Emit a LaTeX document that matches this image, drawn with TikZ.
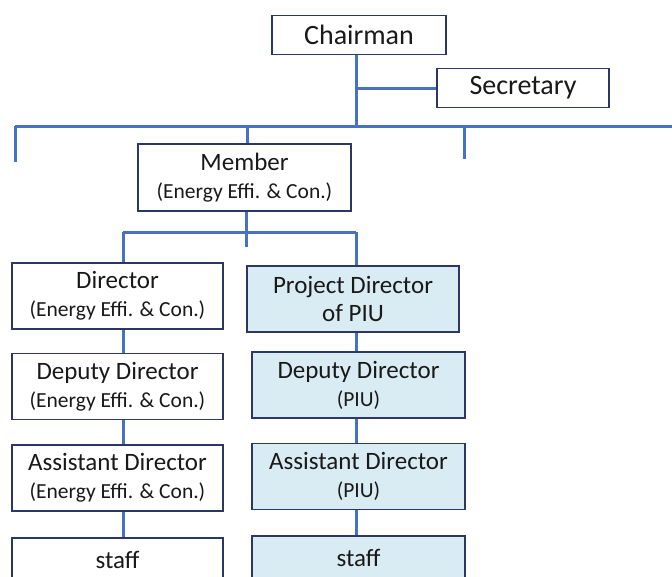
\documentclass[tikz,border=0pt]{standalone}
\usepackage{fontspec}
\setmainfont{Carlito}
\usetikzlibrary{positioning}
\definecolor{linkblue}{RGB}{70,114,192}
\definecolor{boxline}{RGB}{45,55,100}
\definecolor{piufill}{RGB}{218,236,243}
\newcommand{\subline}[1]{{\fontsize{21.5}{28}\selectfont #1}}

\begin{document}
\begin{tikzpicture}[x=1pt,y=-1pt,
  box/.style={draw=boxline,line width=1.6pt,fill=white,text=black!90,align=center,
    inner sep=0pt,minimum width=211pt,minimum height=66pt,font=\fontsize{25}{28}\selectfont},
  piu/.style={box,fill=piufill,minimum width=213pt},
  top/.style={box,minimum height=39pt,font=\fontsize{28}{30}\selectfont},
  staffbox/.style={minimum height=44pt},
  link/.style={draw=linkblue,line width=3pt}]

\useasboundingbox (0,0) rectangle (672,576);
\clip (0,0) rectangle (672,576);

% top level
\node[top,minimum width=174pt] (chair) at (359,35) {Chairman};
\node[top,minimum width=172pt] (secr)  at (523,88) {Secretary};
\node[box,minimum width=213pt,minimum height=67pt] (member) at (244.5,177.5) {Member\\\subline{(Energy Effi. \& Con.)}};

% energy efficiency column
\node[box] (dir)    at (117.5,296)       {Director\\\subline{(Energy Effi. \& Con.)}};
\node[box] (ddir)   [below=23pt of dir]  {Deputy Director\\\subline{(Energy Effi. \& Con.)}};
\node[box] (adir)   [below=24pt of ddir] {Assistant Director\\\subline{(Energy Effi. \& Con.)}};
\node[box,staffbox] (staffl) [below=25pt of adir] {staff};

% PIU column
\node[piu,minimum width=212pt] (pd) at (353,299) {Project Director\\of PIU};
\node[piu] (dpiu)   at (358.5,385)       {Deputy Director\\\subline{(PIU)}};
\node[piu] (apiu)   [below=24pt of dpiu] {Assistant Director\\\subline{(PIU)}};
\node[piu,staffbox] (staffr) [below=25pt of apiu] {staff};

\coordinate (barL)  at (15,126);
\coordinate (barR)  at (672,126);
\coordinate (dropL) at (15,162);
\coordinate (dropM) at (464,159);
\coordinate (colL)  at (123,232);
\coordinate (colR)  at (356,232);

% connectors
\draw[link] (barL) -- (barR);
\draw[link] (barL) -- (dropL);
\draw[link] (dropM |- barL) -- (dropM);
\draw[link] ([xshift=-3pt]chair.south) -- ([xshift=-3pt]chair.south |- barL);
\draw[link] (356,0 |- secr.west) -- (secr.west);
\draw[link] ([xshift=2.5pt]member.north |- barL) -- ([xshift=2.5pt]member.north);
\draw[link] ([xshift=1.5pt]member.south) -- ([xshift=1.5pt]member.south |- 0,247);
\draw[link] (colL) -- (colR);
\draw[link] (colL) -- (colL |- dir.north);
\draw[link] (colR) -- (colR |- pd.north);
\draw[link] (colL |- dir.south)  -- (colL |- ddir.north);
\draw[link] (colL |- ddir.south) -- (colL |- adir.north);
\draw[link] (colL |- adir.south) -- (colL |- staffl.north);
\draw[link] (colR |- pd.south)   -- (colR |- dpiu.north);
\draw[link] (colR |- dpiu.south) -- (colR |- apiu.north);
\draw[link] (colR |- apiu.south) -- (colR |- staffr.north);
\end{tikzpicture}
\end{document}
